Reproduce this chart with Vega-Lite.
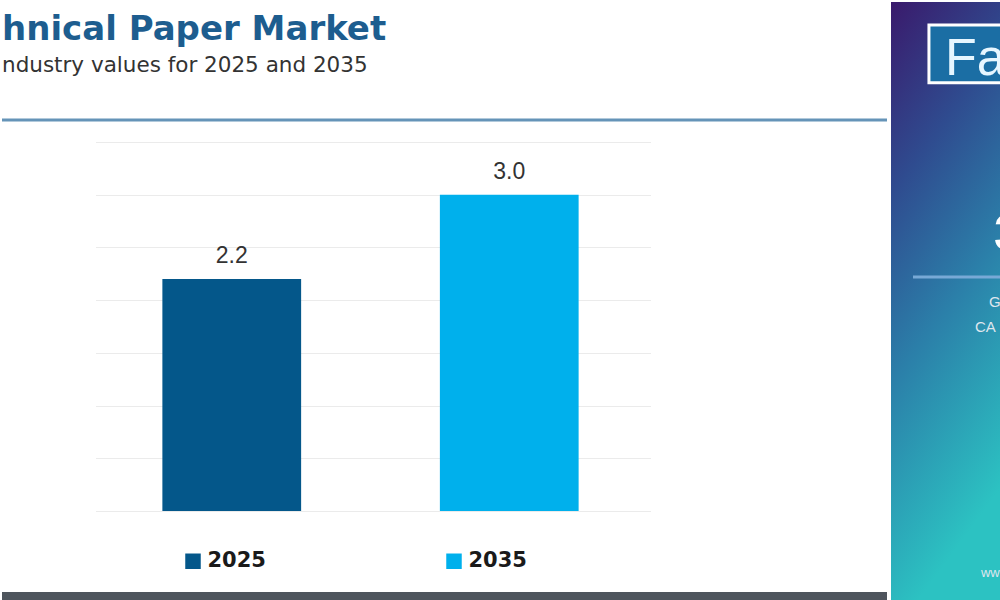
{
  "$schema": "https://vega.github.io/schema/vega-lite/v6.json",
  "background": "white",
  "padding": {"top": 2, "left": 0, "right": 0, "bottom": 0},
  "spacing": 2,
  "config": {"view": {"stroke": null}},
  "resolve": {"legend": {"color": "independent"}},
  "hconcat": [
    {
      "concat": [
        {
          "width": 885,
          "height": 118,
          "title": {
            "text": "hnical Paper Market",
            "subtitle": "ndustry values for 2025 and 2035",
            "anchor": "start",
            "frame": "group",
            "font": "DejaVu Sans",
            "fontSize": 34,
            "fontWeight": "bold",
            "color": "#1d5d8f",
            "subtitleFont": "DejaVu Sans",
            "subtitleFontSize": 21.5,
            "subtitleColor": "#333333",
            "subtitlePadding": 8,
            "offset": -74.5
          },
          "data": {"values": [{"line": "header"}]},
          "mark": {"type": "rule", "color": "#6594b8", "strokeWidth": 3},
          "encoding": {
            "y": {"datum": 0, "type": "quantitative", "scale": {"domain": [0, 1]}, "axis": null}
          }
        },
        {
          "width": 650,
          "height": 369,
          "data": {"values": [
            {"year": "2025", "value": 2.2},
            {"year": "2035", "value": 3.0}
          ]},
          "encoding": {
            "x": {"field": "year", "type": "nominal", "axis": null,
                  "scale": {"range": [93.5, 648.5], "paddingInner": 0.5, "paddingOuter": 0.25, "align": 0.482}},
            "y": {"field": "value", "type": "quantitative",
                  "scale": {"domain": [0, 3.5], "nice": false},
                  "axis": {"values": [0, 0.5, 1, 1.5, 2, 2.5, 3, 3.5], "labels": false, "ticks": false,
                           "domain": false, "grid": true, "gridColor": "#ebebeb", "gridWidth": 1,
                           "title": null}}
          },
          "layer": [
            {
              "mark": {"type": "bar"},
              "encoding": {
                "color": {"field": "year", "type": "nominal",
                          "scale": {"domain": ["2025", "2035"], "range": ["#04578a", "#00b0ec"]},
                          "legend": {"orient": "none", "legendX": 180.5, "legendY": 408.5,
                                     "direction": "horizontal", "title": null,
                                     "symbolType": "square", "symbolSize": 240, "symbolStrokeWidth": 0,
                                     "labelFont": "DejaVu Sans", "labelFontWeight": "bold", "labelFontSize": 21,
                                     "labelColor": "#1a1a1a", "labelOffset": 4, "columnPadding": 177}}
              }
            },
            {
              "mark": {"type": "text", "dy": -16, "baseline": "alphabetic", "font": "Liberation Sans",
                       "fontSize": 23, "color": "#333333"},
              "encoding": {"text": {"field": "value", "type": "quantitative", "format": ".1f"}}
            }
          ]
        },
        {
          "width": 885,
          "height": 8,
          "data": {"values": [{"line": "footer"}]},
          "mark": {"type": "rect", "color": "#4e555d"},
          "encoding": {
            "x": {"datum": 0, "type": "quantitative", "scale": {"domain": [0, 1]}, "axis": null},
            "x2": {"datum": 1},
            "y": {"datum": 0, "type": "quantitative", "scale": {"domain": [0, 1]}, "axis": null},
            "y2": {"datum": 1}
          }
        }
      ],
      "columns": 1,
      "align": "none",
      "spacing": 20,
      "resolve": {"legend": {"color": "independent"}}
    },
    {
      "width": 110,
      "height": 598,
      "data": {"values": [{"logo": "Fa", "big": "3", "g": "G", "ca": "CA", "web": "www"}]},
      "layer": [
        {
          "mark": {"type": "rect", "clip": true,
                   "color": {"gradient": "linear", "x1": 0, "y1": 0, "x2": 0.25, "y2": 1,
                             "stops": [{"offset": 0, "color": "#3a1a6c"}, {"offset": 0.3, "color": "#2f4b8f"},
                                       {"offset": 0.6, "color": "#2b7fa9"}, {"offset": 1, "color": "#2cc2c2"}]}},
          "encoding": {
            "x": {"datum": 0, "type": "quantitative", "scale": {"domain": [0, 100]}, "axis": null},
            "x2": {"datum": 100},
            "y": {"datum": 0, "type": "quantitative", "scale": {"domain": [0, 100], "reverse": true}, "axis": null},
            "y2": {"datum": 100}
          }
        },
        {
          "mark": {"type": "rect", "clip": true, "fill": "#1b6ea4", "stroke": "white", "strokeWidth": 3},
          "encoding": {
            "x": {"datum": 34.5, "type": "quantitative"},
            "x2": {"datum": 104},
            "y": {"datum": 3.85, "type": "quantitative"},
            "y2": {"datum": 13.5}
          }
        },
        {
          "mark": {"type": "text", "clip": true, "align": "left", "baseline": "alphabetic",
                   "font": "Liberation Sans", "fontSize": 52, "color": "#e6f6ff"},
          "encoding": {
            "x": {"datum": 49, "type": "quantitative"},
            "y": {"datum": 12.2, "type": "quantitative"},
            "text": {"field": "logo"}
          }
        },
        {
          "mark": {"type": "text", "clip": true, "align": "left", "baseline": "alphabetic",
                   "font": "Liberation Sans", "fontSize": 50, "fontWeight": "bold", "color": "white"},
          "encoding": {
            "x": {"datum": 93.6, "type": "quantitative"},
            "y": {"datum": 41.5, "type": "quantitative"},
            "text": {"field": "big"}
          }
        },
        {
          "mark": {"type": "rule", "clip": true, "color": "#78a9d6", "strokeWidth": 3},
          "encoding": {
            "x": {"datum": 20, "type": "quantitative"},
            "x2": {"datum": 100},
            "y": {"datum": 46, "type": "quantitative"}
          }
        },
        {
          "mark": {"type": "text", "clip": true, "align": "left", "baseline": "alphabetic",
                   "font": "Liberation Sans", "fontSize": 15, "color": "#dfe6ee"},
          "encoding": {
            "x": {"datum": 89, "type": "quantitative"},
            "y": {"datum": 51, "type": "quantitative"},
            "text": {"field": "g"}
          }
        },
        {
          "mark": {"type": "text", "clip": true, "align": "left", "baseline": "alphabetic",
                   "font": "Liberation Sans", "fontSize": 15, "color": "#dfe6ee"},
          "encoding": {
            "x": {"datum": 76.4, "type": "quantitative"},
            "y": {"datum": 55.2, "type": "quantitative"},
            "text": {"field": "ca"}
          }
        },
        {
          "mark": {"type": "text", "clip": true, "align": "left", "baseline": "alphabetic",
                   "font": "Liberation Sans", "fontSize": 13, "color": "#dfe6ee"},
          "encoding": {
            "x": {"datum": 81.8, "type": "quantitative"},
            "y": {"datum": 96.2, "type": "quantitative"},
            "text": {"field": "web"}
          }
        }
      ]
    }
  ]
}
